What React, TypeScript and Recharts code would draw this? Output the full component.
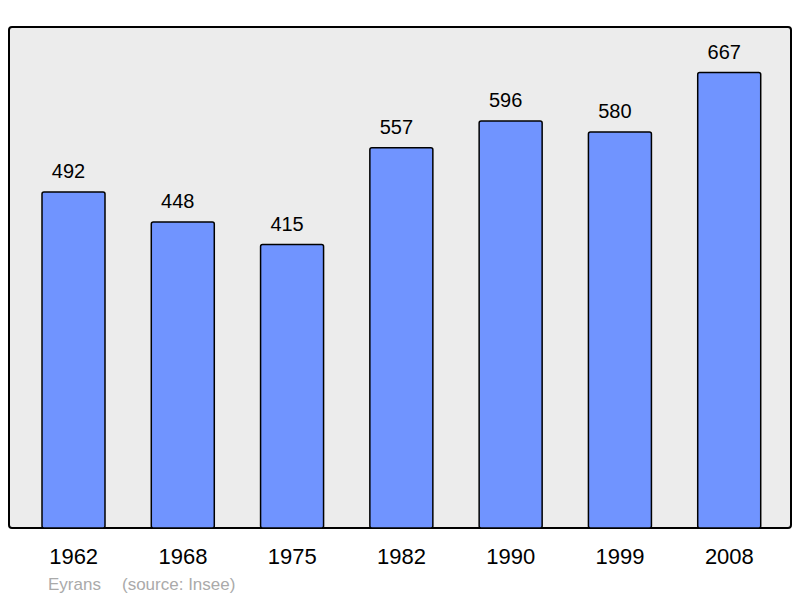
import React from 'react';
import { BarChart, Bar, XAxis, YAxis, LabelList } from 'recharts';

const years = ['1962', '1968', '1975', '1982', '1990', '1999', '2008'];
const population = [492, 448, 415, 557, 596, 580, 667];
const town = 'Eyrans';
const source = '(source: Insee)';

const data = years.map((y, i) => ({ year: y, value: population[i] }));
const font = '"Liberation Sans", Arial, sans-serif';

export default function App() {
  return (
    <div style={{ position: 'absolute', left: 0, top: 0, width: 800, height: 598, background: '#fff', fontFamily: font }}>
      <div
        style={{
          position: 'absolute',
          left: 8,
          top: 26,
          width: 784,
          height: 503,
          boxSizing: 'border-box',
          border: '2px solid #000',
          borderRadius: 4,
          background: '#ececec',
        }}
      />
      <div style={{ position: 'absolute', left: 0, top: 0 }}>
        <BarChart width={800} height={598} data={data} margin={{ top: 27, right: 9, bottom: 40, left: 9 }}>
          <XAxis
            dataKey="year"
            axisLine={false}
            tickLine={false}
            padding={{ left: 10, right: 7 }}
            tickMargin={14}
            tick={{ fill: '#000', fontSize: 22, fontFamily: font }}
            interval={0}
          />
          <YAxis hide domain={[0, 733.7]} />
          <Bar dataKey="value" fill="#7094ff" stroke="#000" strokeWidth={1.5} barSize={63} radius={2} isAnimationActive={false}>
            <LabelList dataKey="value" position="top" offset={14} dx={-5} fill="#000" fontSize={20} fontFamily={font} />
          </Bar>
        </BarChart>
      </div>
      <div style={{ position: 'absolute', left: 48, top: 575, color: '#aaaaaa', fontSize: 17, whiteSpace: 'pre' }}>
        {town}
      </div>
      <div style={{ position: 'absolute', left: 122, top: 575, color: '#aaaaaa', fontSize: 17, whiteSpace: 'pre' }}>
        {source}
      </div>
    </div>
  );
}
